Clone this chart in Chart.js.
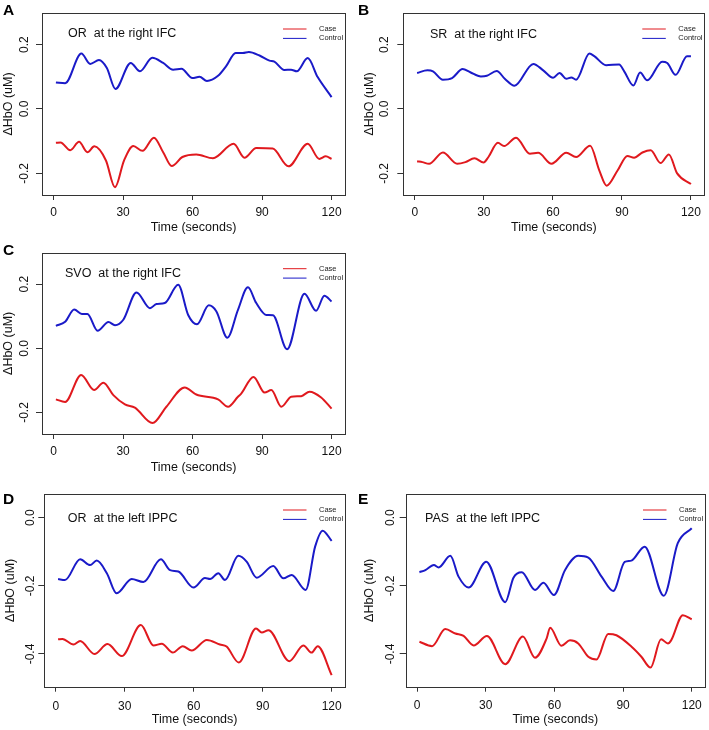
<!DOCTYPE html>
<html>
<head>
<meta charset="utf-8">
<script src="https://cdn.jsdelivr.net/npm/chart.js@4.4.1/dist/chart.umd.min.js"></script>
<style>
  body { margin: 0; background: #fff; }
  #wrap { position: relative; width: 709px; height: 730px; }
  canvas { position: absolute; }
</style>
</head>
<body>
<div id="wrap">
  <canvas id="cA" width="355" height="240" style="left:0;top:0"></canvas>
  <canvas id="cB" width="354" height="240" style="left:355px;top:0"></canvas>
  <canvas id="cC" width="355" height="240" style="left:0;top:240px"></canvas>
  <canvas id="cD" width="355" height="250" style="left:0;top:480px"></canvas>
  <canvas id="cE" width="354" height="250" style="left:355px;top:480px"></canvas>
</div>
<script>
/* tick labels */
const xTicks = [0, 30, 60, 90, 120];
const yTicksRight = [-0.2, 0.0, 0.2];
const yTicksLeft = [-0.4, -0.2, 0.0];
const seriesNames = ["Case", "Control"];

/* A: OR at the right IFC */
const aCtrlT = [1,5,12,15.8,19.6,23,26.7,33.3,37.3,42.6,47.3,51.6,55.2,59.9,63,66.2,71,74.5,78.6,81.7,84.3,88.9,93.2,95.3,99.6,102.5,105,109.7,114,120];
const aCtrlV = [0.082,0.080,0.172,0.140,0.152,0.127,0.062,0.143,0.117,0.159,0.143,0.122,0.125,0.096,0.100,0.087,0.103,0.133,0.174,0.174,0.177,0.166,0.150,0.147,0.121,0.122,0.117,0.158,0.099,0.037];
const aCaseT = [1,3,7.2,11,14.6,17.6,22.6,26.5,30.4,34.4,38.4,43.3,47.3,51,55.6,61.6,68.8,77.7,82.4,87.5,94.6,101.4,109.7,114.7,117.5,120];
const aCaseV = [-0.105,-0.104,-0.128,-0.102,-0.134,-0.116,-0.160,-0.243,-0.160,-0.115,-0.130,-0.089,-0.134,-0.177,-0.149,-0.141,-0.153,-0.108,-0.151,-0.121,-0.123,-0.178,-0.108,-0.155,-0.147,-0.155];

/* B: SR at the right IFC */
const bCtrlT = [1,5.5,7.9,12.2,16.2,20.8,24.1,28.7,31.3,35.6,39.2,43.3,51.5,55.8,60.1,62.9,65.8,68,70.1,75.9,78,83.1,88.8,91,95,97.9,101,107.5,109.7,113.3,118.3,120];
const bCtrlV = [0.112,0.120,0.117,0.091,0.096,0.124,0.114,0.101,0.103,0.118,0.093,0.072,0.140,0.120,0.097,0.112,0.094,0.098,0.091,0.172,0.164,0.136,0.138,0.117,0.073,0.113,0.089,0.147,0.143,0.106,0.164,0.164];
const bCaseT = [1,3.3,6.2,12.2,18.4,22,25.9,29.9,32,36.1,38.8,44,50,53.6,59.4,65.8,70.1,76.2,80.2,83.4,88.1,92.4,95.3,98.9,102.5,106.8,110.4,114,120];
const bCaseV = [-0.162,-0.165,-0.170,-0.135,-0.170,-0.165,-0.153,-0.166,-0.149,-0.105,-0.115,-0.089,-0.139,-0.136,-0.170,-0.136,-0.149,-0.114,-0.191,-0.238,-0.191,-0.146,-0.151,-0.135,-0.128,-0.168,-0.141,-0.200,-0.233];

/* C: SVO at the right IFC */
const cCtrlT = [1,5,8.9,12.2,14.6,19,23.7,26.5,30.1,35.8,41.6,44.4,48,53.8,58.1,61.9,67,70.3,75,79.6,83.9,87.5,91.8,94.7,100.8,108.3,113.3,116.9,120];
const cCtrlV = [0.070,0.083,0.121,0.107,0.107,0.055,0.082,0.072,0.089,0.174,0.125,0.138,0.141,0.198,0.104,0.075,0.134,0.115,0.033,0.120,0.190,0.141,0.104,0.103,-0.003,0.170,0.117,0.164,0.146];
const cCaseT = [1,5,11.9,17.5,21.5,25.8,30.8,35.1,42.7,48.7,56.6,61.6,71,75.3,79.6,81,86.3,91.1,94,98.3,102.6,106.9,110.5,115.5,120];
const cCaseV = [-0.159,-0.167,-0.083,-0.130,-0.107,-0.146,-0.175,-0.185,-0.233,-0.182,-0.122,-0.144,-0.159,-0.182,-0.151,-0.141,-0.089,-0.138,-0.130,-0.182,-0.151,-0.149,-0.135,-0.153,-0.188];

/* D: OR at the left IPPC */
const dCtrlT = [1,4,10.6,14.9,17.8,22.2,26.5,33,38.1,45.7,49.7,53.3,59.9,64.9,67.1,70.7,73.6,79.4,83,87.4,94.6,99,102.6,108.7,112.8,116.1,120];
const dCtrlV = [-0.180,-0.183,-0.122,-0.139,-0.126,-0.163,-0.222,-0.180,-0.189,-0.122,-0.154,-0.158,-0.205,-0.177,-0.180,-0.163,-0.183,-0.112,-0.129,-0.176,-0.142,-0.178,-0.168,-0.212,-0.085,-0.038,-0.068];
const dCaseT = [1,2.9,7.7,10.6,16.8,22.5,28.7,37,42.5,46.1,50.9,55.2,59.1,65.7,71.4,74.3,79.6,87.1,89.6,92.5,101.6,107.7,111.3,113.9,120];
const dCaseV = [-0.357,-0.356,-0.372,-0.362,-0.400,-0.371,-0.406,-0.315,-0.375,-0.370,-0.396,-0.377,-0.390,-0.359,-0.372,-0.378,-0.425,-0.325,-0.337,-0.330,-0.421,-0.375,-0.396,-0.377,-0.462];

/* E: PAS at the left IPPC */
const eCtrlT = [1,3.6,7.3,9.4,14.5,18.1,22.5,30.2,38.5,42.1,45.7,51.5,55.2,59.8,64.6,70.4,74.8,80.6,85.7,90.7,93.6,99.4,107.8,113.9,120];
const eCtrlV = [-0.160,-0.154,-0.139,-0.146,-0.112,-0.173,-0.205,-0.129,-0.248,-0.176,-0.160,-0.212,-0.191,-0.227,-0.154,-0.112,-0.117,-0.173,-0.215,-0.130,-0.126,-0.085,-0.229,-0.075,-0.031];
const eCaseT = [1,6.5,12.3,16.7,20.3,24.7,30.5,38.5,46.2,51.5,56.6,58.1,63.1,66.8,70.4,74.8,78.4,83.5,87.1,93.6,98,102,106.6,109.6,111,116.1,120];
const eCaseV = [-0.364,-0.377,-0.327,-0.340,-0.347,-0.375,-0.347,-0.430,-0.349,-0.411,-0.354,-0.323,-0.376,-0.360,-0.369,-0.408,-0.416,-0.341,-0.345,-0.378,-0.408,-0.440,-0.357,-0.369,-0.360,-0.286,-0.298];

const RED = "#e0191e";
const BLUE = "#1a1ac8";
const FONT = '"Liberation Sans", Arial, sans-serif';

function pts(t, v) {
    return t.map((x, i) => ({ x: x, y: v[i] }));
}

function fmt(v) {
    if (Math.abs(v) < 1e-9) v = 0;
    return v.toFixed(1);
}

// axis text, box, legend and labels drawn R-style
const decor = {
    id: "decor",
    afterDraw(chart, args, o) {
        const { ctx, chartArea: a, scales } = chart;
        const x = scales.x, y = scales.y;
        ctx.save();
        ctx.strokeStyle = "#333";
        ctx.lineWidth = 1;
        ctx.strokeRect(Math.round(a.left) + 0.5, Math.round(a.top) + 0.5,
            Math.round(a.right - a.left), Math.round(a.bottom - a.top));

        ctx.fillStyle = "#111";
        ctx.font = "12px " + FONT;
        ctx.textAlign = "center";
        ctx.textBaseline = "middle";
        x.ticks.forEach(t => ctx.fillText(String(t.value), x.getPixelForValue(t.value), o.xTickY));
        y.ticks.forEach(t => {
            ctx.save();
            ctx.translate(o.yTickX, y.getPixelForValue(t.value));
            ctx.rotate(-Math.PI / 2);
            ctx.fillText(fmt(t.value), 0, 0);
            ctx.restore();
        });

        ctx.font = "12.5px " + FONT;
        ctx.fillText("Time (seconds)", (a.left + a.right) / 2, o.xTitleY);
        ctx.save();
        ctx.translate(o.yTitleX, (a.top + a.bottom) / 2);
        ctx.rotate(-Math.PI / 2);
        ctx.fillText("\u0394HbO (uM)", 0, 0);
        ctx.restore();

        ctx.textAlign = "left";
        ctx.fillText(o.title, o.titleX, o.titleY);

        ctx.font = "bold 15.5px " + FONT;
        ctx.textBaseline = "alphabetic";
        ctx.fillStyle = "#000";
        ctx.fillText(o.letter, 3, o.letterY);

        // legend
        ctx.font = "7.5px " + FONT;
        ctx.textBaseline = "middle";
        ctx.fillStyle = "#222";
        chart.data.datasets.forEach((ds, i) => {
            const ly = a.top + 16 + i * 9.4;
            ctx.strokeStyle = ds.borderColor;
            ctx.beginPath();
            ctx.moveTo(a.right - 62, ly);
            ctx.lineTo(a.right - 38.5, ly);
            ctx.stroke();
            ctx.fillText(ds.label, a.right - 26, ly);
        });
        ctx.restore();
    }
};

function makePanel(p) {
    const canvas = document.getElementById(p.id);
    const W = canvas.width, H = canvas.height;
    return new Chart(canvas.getContext("2d"), {
        type: "line",
        data: {
            datasets: [
                { label: seriesNames[0], data: pts(p.caseT, p.caseV), borderColor: RED },
                { label: seriesNames[1], data: pts(p.ctrlT, p.ctrlV), borderColor: BLUE }
            ]
        },
        options: {
            responsive: false,
            animation: false,
            events: [],
            parsing: true,
            elements: {
                point: { radius: 0 },
                line: { borderWidth: 2, cubicInterpolationMode: "monotone", fill: false }
            },
            layout: { padding: { left: 0, top: p.top, right: W - p.right, bottom: 0 } },
            plugins: {
                legend: { display: false },
                tooltip: { enabled: false },
                decor: p.text
            },
            scales: {
                x: {
                    type: "linear",
                    min: -5,
                    max: 125.8,
                    afterBuildTicks: s => { s.ticks = xTicks.map(v => ({ value: v })); },
                    afterFit: s => { s.height = H - p.bottom; },
                    ticks: { display: false },
                    border: { display: false },
                    grid: { drawOnChartArea: false, drawTicks: true, tickLength: 5, color: "#333" }
                },
                y: {
                    min: p.ymin,
                    max: p.ymax,
                    afterBuildTicks: s => { s.ticks = p.yTicks.map(v => ({ value: v })); },
                    afterFit: s => { s.width = p.left; },
                    ticks: { display: false },
                    border: { display: false },
                    grid: { drawOnChartArea: false, drawTicks: true, tickLength: 6, color: "#333" }
                }
            }
        },
        plugins: [decor]
    });
}

makePanel({
    id: "cA", left: 42, right: 345, top: 13, bottom: 195,
    ymin: -0.267, ymax: 0.298, yTicks: yTicksRight,
    caseT: aCaseT, caseV: aCaseV, ctrlT: aCtrlT, ctrlV: aCtrlV,
    text: { letter: "A", title: "OR  at the right IFC", titleX: 68, titleY: 34, letterY: 15,
            yTickX: 25, yTitleX: 9, xTickY: 212.5, xTitleY: 228 }
});
makePanel({
    id: "cB", left: 48.3, right: 349.3, top: 13, bottom: 195,
    ymin: -0.267, ymax: 0.298, yTicks: yTicksRight,
    caseT: bCaseT, caseV: bCaseV, ctrlT: bCtrlT, ctrlV: bCtrlV,
    text: { letter: "B", title: "SR  at the right IFC", titleX: 75, titleY: 34.3, letterY: 15,
            yTickX: 29.7, yTitleX: 15, xTickY: 212.5, xTitleY: 228 }
});
makePanel({
    id: "cC", left: 42, right: 345, top: 12.7, bottom: 194,
    ymin: -0.267, ymax: 0.298, yTicks: yTicksRight,
    caseT: cCaseT, caseV: cCaseV, ctrlT: cCtrlT, ctrlV: cCtrlV,
    text: { letter: "C", title: "SVO  at the right IFC", titleX: 65, titleY: 33.3, letterY: 15,
            yTickX: 25, yTitleX: 9, xTickY: 212, xTitleY: 227.5 }
});
makePanel({
    id: "cD", left: 44.3, right: 345, top: 14, bottom: 206.7,
    ymin: -0.496, ymax: 0.0695, yTicks: yTicksLeft,
    caseT: dCaseT, caseV: dCaseV, ctrlT: dCtrlT, ctrlV: dCtrlV,
    text: { letter: "D", title: "OR  at the left IPPC", titleX: 67.7, titleY: 38.3, letterY: 24,
            yTickX: 30.5, yTitleX: 10.8, xTickY: 226.5, xTitleY: 240 }
});
makePanel({
    id: "cE", left: 50.7, right: 350, top: 14, bottom: 206.7,
    ymin: -0.496, ymax: 0.0695, yTicks: yTicksLeft,
    caseT: eCaseT, caseV: eCaseV, ctrlT: eCtrlT, ctrlV: eCtrlV,
    text: { letter: "E", title: "PAS  at the left IPPC", titleX: 70, titleY: 38.3, letterY: 24,
            yTickX: 36, yTitleX: 15, xTickY: 226, xTitleY: 240 }
});
</script>
</body>
</html>
